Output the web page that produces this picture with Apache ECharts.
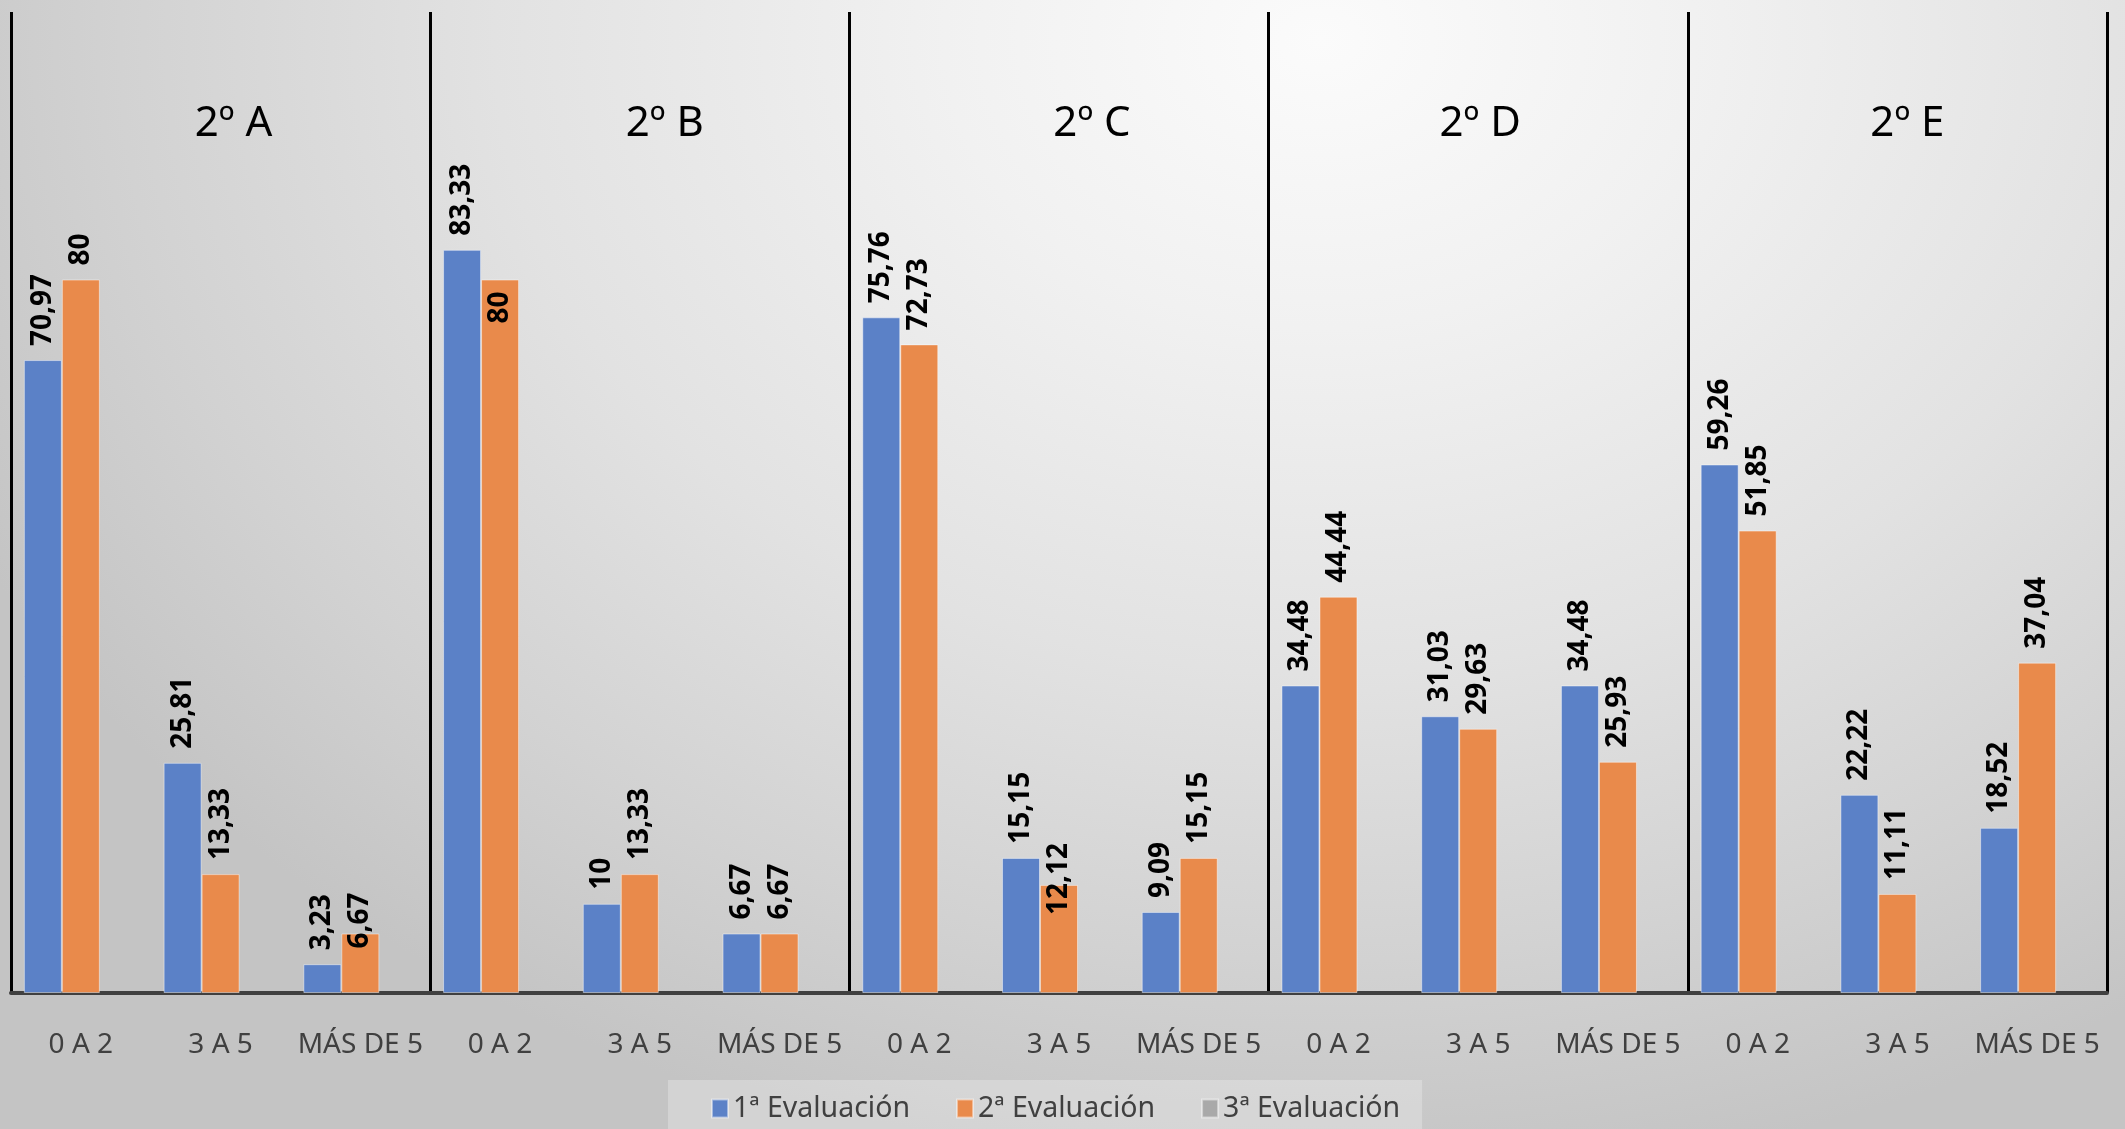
<!DOCTYPE html>
<html>
<head>
<meta charset="utf-8">
<script src="https://cdn.jsdelivr.net/npm/echarts@6/dist/echarts.min.js"></script>
<style>
html,body{margin:0;padding:0;}
#chart{width:2125px;height:1129px;
background: radial-gradient(ellipse 1500px 1150px at 1320px 40px, #FBFBFB 0%, #F1F1F1 25%, #E2E2E2 55%, #D2D2D2 80%, #C4C4C4 100%);}
</style>
</head>
<body>
<div id="chart"></div>
<script>
const groups = ['2º A', '2º B', '2º C', '2º D', '2º E'];
const categories = ['0 A 2', '3 A 5', 'MÁS DE 5'];
const seriesNames = ['1ª Evaluación', '2ª Evaluación', '3ª Evaluación'];
const eval1 = [70.97, 25.81, 3.23, 83.33, 10, 6.67, 75.76, 15.15, 9.09, 34.48, 31.03, 34.48, 59.26, 22.22, 18.52];
const eval2 = [80, 13.33, 6.67, 80, 13.33, 6.67, 72.73, 12.12, 15.15, 44.44, 29.63, 25.93, 51.85, 11.11, 37.04];
const eval3 = [null, null, null, null, null, null, null, null, null, null, null, null, null, null, null];
const colors = ['#5B81C7', '#E98A4B', '#A9A9A9'];

// title shifts (px to the right of the group centre), as placed in the reference
const titleShift = [13, 25, 33, 2, 10];

// label placement adjustments seen in the reference (Excel moved these labels)
const labelOverrides = [
  {series: 1, index: 2, distance: -15},
  {series: 1, index: 3, position: 'insideTop'},
  {series: 1, index: 7, distance: -30}
];

const xKeys = [];
groups.forEach((g, gi) => categories.forEach(c => xKeys.push(gi + '|' + c)));

const fmt = p => (p.value == null ? '' : String(p.value).replace('.', ','));
const baseLabel = {
  show: true, position: 'top', rotate: 90, align: 'left', verticalAlign: 'middle',
  distance: 14, fontFamily: 'Noto Sans', fontWeight: 'bold', fontSize: 28, color: '#000',
  formatter: fmt
};

function buildData(vals, si) {
  return vals.map((v, i) => {
    const o = labelOverrides.find(d => d.series === si && d.index === i);
    if (!o || v == null) return v;
    if (o.position === 'insideTop') {
      return {value: v, label: {position: 'insideTop', align: 'right', distance: 12}};
    }
    return {value: v, label: {distance: o.distance}};
  });
}

const allVals = [eval1, eval2, eval3];
const series = allVals.map((vals, si) => ({
  name: seriesNames[si], type: 'bar', xAxisIndex: 0,
  data: buildData(vals, si),
  barWidth: 38, barGap: '0%',
  itemStyle: {color: colors[si], borderColor: 'rgba(255,255,255,0.45)', borderWidth: 1},
  label: baseLabel
}));

const titleRich = {};
titleShift.forEach((s, i) => {
  titleRich['g' + i] = {fontSize: 42, color: '#000', fontFamily: 'Noto Sans', padding: [0, 0, 0, 2 * s]};
});

const chart = echarts.init(document.getElementById('chart'), null, {renderer: 'canvas'});
chart.setOption({
  backgroundColor: 'transparent',
  animation: false,
  textStyle: {fontFamily: 'Noto Sans'},
  legend: {
    data: seriesNames, left: 668, top: 1080,
    padding: [14, 22, 26, 43],
    backgroundColor: 'rgba(255,255,255,0.25)',
    itemWidth: 16, itemHeight: 18, itemGap: 46, icon: 'rect',
    textStyle: {fontSize: 28.5, color: '#404040', fontFamily: 'Noto Sans'}
  },
  grid: {left: 11, right: 18, top: 12, bottom: 136, containLabel: false},
  xAxis: [
    {
      type: 'category', position: 'bottom', data: xKeys,
      axisLine: {show: true, lineStyle: {color: '#404040', width: 4}},
      axisTick: {show: false},
      axisLabel: {interval: 0, margin: 38, fontSize: 28, color: '#404040', fontFamily: 'Noto Sans',
        formatter: v => v.split('|')[1]},
      splitLine: {show: false}
    },
    {
      type: 'category', position: 'top', data: groups,
      axisLine: {show: false}, axisTick: {show: false},
      axisLabel: {inside: true, interval: 0, margin: 91, fontSize: 42, color: '#000', fontFamily: 'Noto Sans',
        formatter: (v, i) => '{g' + i + '|' + v + '}', rich: titleRich},
      splitLine: {show: true, interval: 0, lineStyle: {color: '#000', width: 3}}
    }
  ],
  yAxis: {type: 'value', min: 0, max: 110, show: false, splitLine: {show: false}},
  series: series
});
</script>
</body>
</html>
